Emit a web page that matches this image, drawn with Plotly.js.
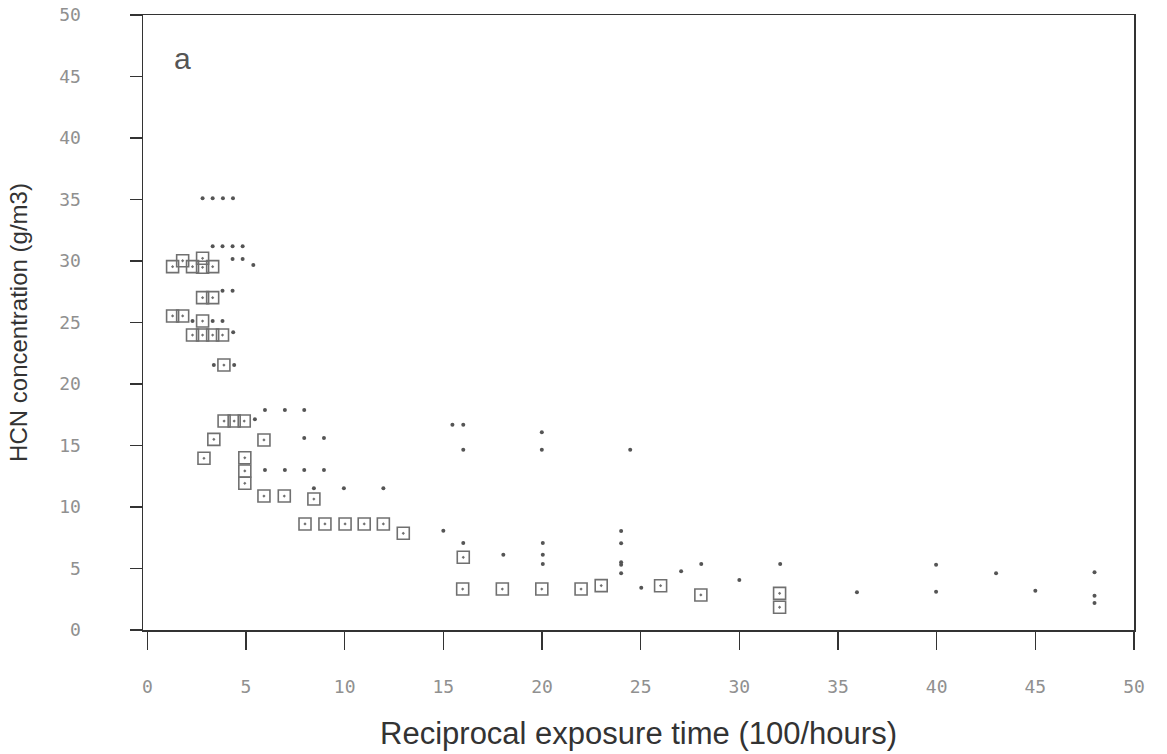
<!DOCTYPE html>
<html>
<head>
<meta charset="utf-8">
<script src="https://cdn.plot.ly/plotly-3.0.1.min.js"></script>
<style>html,body{margin:0;padding:0;background:#fff;}#chart{width:1167px;height:754px;}</style>
</head>
<body>
<div id="chart"></div>
<script>
// Open squares (with centre dot)
const squareX = [1.28, 1.79, 2.29, 2.80, 2.80, 3.31, 2.80, 3.31, 1.28, 1.79, 2.80, 2.29, 2.80, 3.31, 3.81,
  3.88, 3.89, 4.40, 4.91, 3.37, 5.91, 2.87, 4.94, 4.94, 4.94, 5.91, 6.94, 8.44,
  7.99, 9.00, 10.02, 10.99, 11.96, 12.97, 16.01, 15.98, 17.99, 19.99, 21.98, 23.00, 26.01, 28.05, 32.04, 32.04];
const squareY = [29.54, 30.02, 29.54, 30.22, 29.49, 29.54, 27.02, 27.02, 25.53, 25.53, 25.12, 23.98, 23.98, 23.98, 23.98,
  21.54, 16.99, 16.99, 16.99, 15.50, 15.45, 13.96, 14.00, 12.93, 11.93, 10.89, 10.89, 10.65,
  8.62, 8.62, 8.62, 8.62, 8.62, 7.86, 5.91, 3.33, 3.33, 3.33, 3.33, 3.61, 3.60, 2.85, 2.98, 1.85];

// Small dots
const dotX = [2.80, 3.31, 3.83, 4.34, 3.31, 3.81, 4.32, 4.83, 4.32, 4.83, 5.37, 3.81, 4.32,
  2.29, 3.31, 3.81, 4.35, 3.37, 4.40, 5.45, 5.96, 6.97, 7.95, 7.95, 8.95,
  5.96, 6.97, 7.95, 8.95, 8.44, 9.96, 11.96, 15.00, 15.46, 16.01, 16.01, 19.99, 19.99, 24.47,
  16.01, 18.04, 20.04, 20.04, 20.04, 24.01, 24.01, 24.01, 24.01, 24.01, 25.03,
  27.05, 28.07, 30.00, 32.07, 35.96, 39.97, 39.97, 43.01, 45.00, 48.00, 48.00, 48.00];
const dotY = [35.1, 35.1, 35.1, 35.1, 31.2, 31.2, 31.2, 31.2, 30.16, 30.16, 29.67, 27.58, 27.58,
  25.12, 25.12, 25.12, 24.2, 21.54, 21.54, 17.13, 17.89, 17.89, 17.89, 15.61, 15.61,
  13.01, 13.01, 13.01, 13.01, 11.52, 11.52, 11.52, 8.07, 16.69, 16.69, 14.66, 16.07, 14.66, 14.66,
  7.07, 6.12, 7.07, 6.12, 5.37, 8.05, 7.05, 5.5, 5.3, 4.61, 3.44,
  4.77, 5.37, 4.07, 5.37, 3.07, 5.31, 3.11, 4.61, 3.2, 4.69, 2.79, 2.2];

const tickVals = [0, 5, 10, 15, 20, 25, 30, 35, 40, 45, 50];
const tickText = ['0', '5', '10', '15', '20', '25', '30', '35', '40', '45', '50'];

const traces = [
  {
    type: 'scatter', mode: 'markers', x: squareX, y: squareY,
    marker: {symbol: 'square-open-dot', size: 12, color: '#707070', line: {width: 1.6, color: '#707070'}},
    hoverinfo: 'x+y', showlegend: false
  },
  {
    type: 'scatter', mode: 'markers', x: dotX, y: dotY,
    marker: {symbol: 'circle', size: 4, color: '#555'},
    hoverinfo: 'x+y', showlegend: false
  }
];

const tickFont = {family: 'DejaVu Sans Mono, monospace', size: 18, color: '#909090'};

const layout = {
  width: 1167, height: 754,
  margin: {l: 143, r: 33, t: 15, b: 124},
  paper_bgcolor: '#fff', plot_bgcolor: '#fff',
  showlegend: false,
  xaxis: {
    range: [-0.22, 50], tickmode: 'array', tickvals: tickVals, ticktext: tickText,
    ticks: 'outside', ticklen: 18, tickwidth: 1.2, tickcolor: '#333',
    showline: true, linecolor: '#333', linewidth: 1.5, mirror: true,
    showgrid: false, zeroline: false, tickfont: tickFont, ticklabelstandoff: 22,
    title: {text: 'Reciprocal exposure time (100/hours)', font: {family: 'Liberation Sans, Arial, sans-serif', size: 31, color: '#333'}, standoff: 26}
  },
  yaxis: {
    range: [0, 50], tickmode: 'array', tickvals: tickVals, ticktext: tickText,
    ticks: 'outside', ticklen: 12, tickwidth: 1.2, tickcolor: '#333',
    showline: true, linecolor: '#333', linewidth: 1.5, mirror: true,
    showgrid: false, zeroline: false, tickfont: tickFont, ticklabelstandoff: 45,
    title: {text: 'HCN concentration (g/m3)', font: {family: 'Liberation Sans, Arial, sans-serif', size: 24, color: '#333'}, standoff: 25}
  },
  annotations: [
    {text: 'a', xref: 'paper', yref: 'paper', x: 0.04, y: 0.93, xanchor: 'center', yanchor: 'middle', showarrow: false,
     font: {family: 'Liberation Sans, Arial, sans-serif', size: 30, color: '#555'}}
  ]
};

Plotly.newPlot('chart', traces, layout, {displayModeBar: false, staticPlot: true});
</script>
</body>
</html>
